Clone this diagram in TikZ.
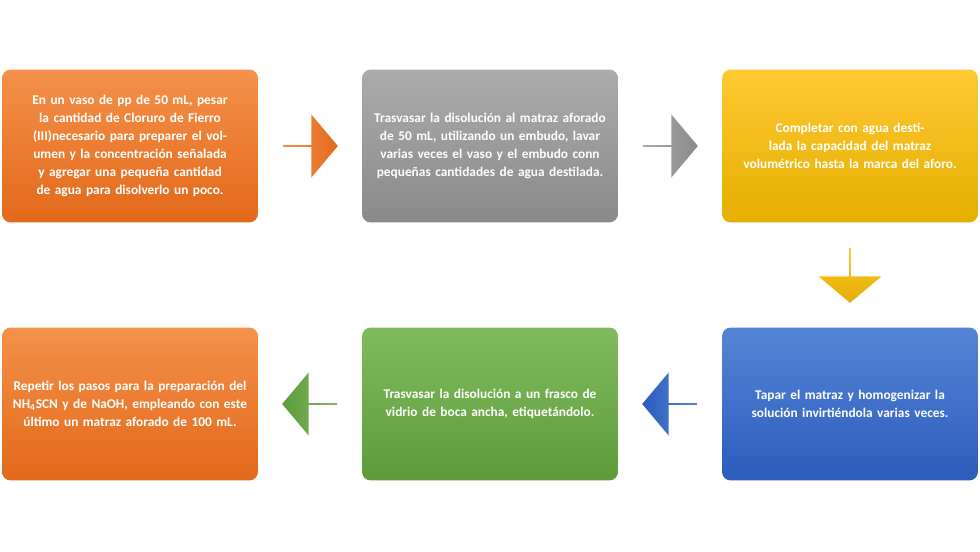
\documentclass[tikz,border=0pt]{standalone}
\usepackage{fontspec}
\setmainfont{Carlito}
\usetikzlibrary{shapes.arrows,calc}
\definecolor{o1}{HTML}{F4914A}\definecolor{o2}{HTML}{E2691A}
\definecolor{g1}{HTML}{ABABAB}\definecolor{g2}{HTML}{8A8A8A}
\definecolor{y1}{HTML}{FFC933}\definecolor{y2}{HTML}{E5AE00}
\definecolor{b1}{HTML}{5585D6}\definecolor{b2}{HTML}{2C5CBC}
\definecolor{n1}{HTML}{80BC5E}\definecolor{n2}{HTML}{5E9B3B}
\tikzset{
 stepbox/.style={rounded corners=5pt,minimum width=5.12cm,minimum height=3.06cm,text width=4.7cm,align=center,text=white,font=\fontsize{7.6}{10.2}\selectfont\bfseries,inner sep=0pt},
 blk/.style={single arrow,minimum height=1.1cm,minimum width=1.26cm,single arrow head extend=0.28cm,single arrow tip angle=100,inner sep=0pt,draw=none},
}
\begin{document}
\begin{tikzpicture}[x=0.02cm,y=-0.02cm]
\useasboundingbox (0,0) rectangle (980,551);
\node[stepbox,top color=o1,bottom color=o2] (a) at (130,146) {En un vaso de pp de 50 mL, pesar la cantidad de Cloruro de Fierro (III)necesario para preparer el volumen y la concentración señalada y agregar una pequeña cantidad de agua para disolverlo un poco.};
\node[stepbox,top color=g1,bottom color=g2] (b) at (490,146) {Trasvasar la disolución al matraz aforado de 50 mL, utilizando un embudo, lavar varias veces el vaso y el embudo conn pequeñas cantidades de agua destilada.};
\node[stepbox,top color=y1,bottom color=y2] (c) at (850,146) {Completar con agua destilada la capacidad del matraz volumétrico hasta la marca del aforo.};
\node[stepbox,top color=b1,bottom color=b2] (d) at (850,404) {Tapar el matraz y homogenizar la solución invirtiéndola varias veces.};
\node[stepbox,top color=n1,bottom color=n2] (e) at (490,404) {Trasvasar la disolución a un frasco de vidrio de boca ancha, etiquetándolo.};
\node[stepbox,top color=o1,bottom color=o2] (f) at (130,404) {Repetir los pasos para la preparación del NH\textsubscript{4}SCN y de NaOH, empleando con este último un matraz aforado de 100 mL.};
\node[blk,left color=o1,right color=o2] (ab) at ($(a.east)!0.5!(b.west)$) {};
\node[blk,left color=g1,right color=g2] (bc) at ($(b.east)!0.5!(c.west)$) {};
\node[blk,shape border rotate=270,top color=y1,bottom color=y2] (cd) at ($(c.south)!0.5!(d.north)$) {};
\node[blk,shape border rotate=180,left color=b2,right color=b1] (de) at ($(d.west)!0.5!(e.east)$) {};
\node[blk,shape border rotate=180,left color=n2,right color=n1] (ef) at ($(e.west)!0.5!(f.east)$) {};
\end{tikzpicture}
\end{document}
